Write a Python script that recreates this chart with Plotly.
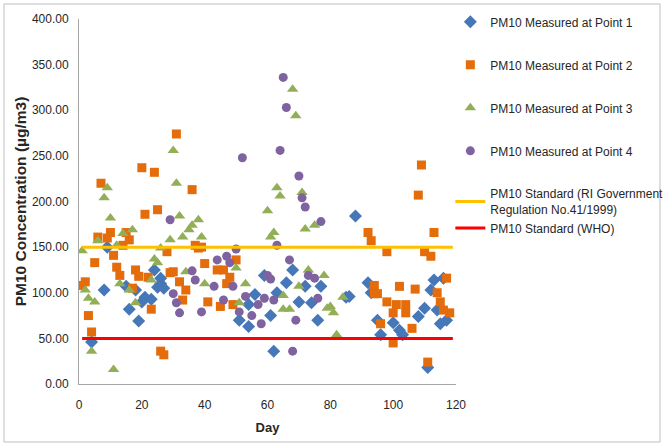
import plotly.graph_objects as go

# Point 1 (blue diamonds)
p1_day = [4, 8, 9, 15, 16, 18, 19, 20, 21, 23, 24, 25, 26, 26, 27,
          51, 54, 54, 56, 59, 61, 62, 63, 66, 68, 70, 72, 74, 76, 77,
          85, 86, 88, 92, 93, 95, 96, 100, 102, 103, 108, 110, 111, 112, 113, 114, 115, 116, 117]
p1_val = [46, 103, 150, 107, 82, 103, 69, 90, 95, 93, 125, 106, 116, 110, 105,
          70, 63, 87, 98, 119, 75, 36, 100, 111, 125, 90, 107, 89, 70, 107,
          95, 96, 184, 111, 100, 70, 54, 67, 59, 54, 74, 83, 18, 103, 114, 81, 66, 116, 70]

# Point 2 (orange squares)
p2_day = [1, 2, 3, 4, 5, 6, 7, 9, 10, 11, 12, 13, 14, 15, 16, 17, 18, 19, 20, 21,
          22, 23, 24, 25, 26, 27, 28, 29, 30, 31, 32, 33, 34, 36, 37, 38, 39, 40,
          41, 44, 45, 46, 47, 48, 49, 50,
          92, 93, 94, 94, 95, 96, 98, 98, 100, 100, 102, 101, 104, 104, 106, 107,
          108, 109, 110, 111, 112, 113, 114, 115, 116, 117, 118]
p2_val = [108, 112, 75, 57, 133, 161, 220, 160, 166, 141, 128, 119, 152, 166, 158, 105, 125, 118, 237, 186,
          117, 82, 232, 191, 36, 32, 145, 122, 123, 274, 112, 92, 103, 213, 152, 149, 150, 132,
          90, 125, 85, 125, 110, 117, 87, 136,
          166, 157, 108, 99, 99, 66, 145, 90, 45, 78, 107, 87, 87, 78, 61, 104,
          207, 240, 145, 24, 140, 166, 100, 90, 81, 116, 78]

# Point 3 (green triangles)
p3_day = [1, 2, 3, 4, 5, 6, 8, 9, 10, 11, 12, 13, 14, 16, 17, 18, 23, 24, 25, 26,
          29, 30, 31, 32, 33, 34, 35, 36, 38, 39, 40, 50, 51, 53,
          60, 61, 62, 63, 64, 65, 65, 67, 68, 69, 70, 71, 72, 73, 75, 78, 79, 80, 81, 82, 84]
p3_val = [146, 103, 94, 36, 90, 157, 204, 215, 182, 16, 152, 110, 165, 103, 169, 89, 114, 137, 133, 149,
          158, 256, 220, 184, 161, 123, 169, 174, 180, 161, 110, 127, 89, 110,
          190, 161, 166, 215, 206, 97, 82, 82, 323, 294, 107, 210, 170, 125, 174, 119, 83, 85, 78, 54, 95]

# Point 4 (purple circles)
p4_day = [29, 30, 31, 32, 36, 37, 39, 43, 44, 46, 47, 48, 49, 50, 51, 52, 53, 55, 57, 58,
          59, 60, 61, 62, 63, 64, 65, 66, 67, 68, 69, 70, 71, 72, 73, 75, 76, 77]
p4_val = [180, 99, 89, 78, 124, 114, 79, 107, 136, 92, 140, 133, 107, 148, 79, 248, 96, 75, 87, 66,
          94, 119, 115, 92, 152, 256, 336, 303, 136, 36, 70, 228, 204, 194, 119, 116, 94, 178]

std_day = [1, 119]
std_ri = [150, 150]
std_who = [50, 50]

FONT = "Liberation Sans, Arial, sans-serif"
TXT = "#262626"

fig = go.Figure()
fig.add_trace(go.Scatter(x=p1_day, y=p1_val, mode="markers", name="PM10 Measured at Point 1",
                         legendgroup="a",
                         marker=dict(symbol="diamond", size=10, color="#4677B8")))
fig.add_trace(go.Scatter(x=p2_day, y=p2_val, mode="markers", name="PM10 Measured at Point 2",
                         legendgroup="b",
                         marker=dict(symbol="square", size=9, color="#E46C0A")))
fig.add_trace(go.Scatter(x=p3_day, y=p3_val, mode="markers", name="PM10 Measured at Point 3",
                         legendgroup="c",
                         marker=dict(symbol="triangle-up", size=10, color="#92AF58")))
fig.add_trace(go.Scatter(x=p4_day, y=p4_val, mode="markers", name="PM10 Measured at Point 4",
                         legendgroup="d",
                         marker=dict(symbol="circle", size=9, color="#7F63A0")))
fig.add_trace(go.Scatter(x=std_day, y=std_ri, mode="lines",
                         name="PM10 Standard (RI Government<br>Regulation No.41/1999)",
                         legendgroup="e",
                         line=dict(color="#FFC000", width=3)))
fig.add_trace(go.Scatter(x=std_day, y=std_who, mode="lines", name="PM10 Standard (WHO)",
                         legendgroup="e",
                         line=dict(color="#FF0000", width=3)))

fig.update_layout(
    width=663, height=446,
    margin=dict(l=79, r=207, t=19, b=62, autoexpand=False),
    paper_bgcolor="white", plot_bgcolor="white",
    font=dict(family=FONT, size=12, color=TXT),
    showlegend=True,
    legend=dict(x=0.985, xanchor="left", y=1.032, yanchor="top",
                tracegroupgap=24, traceorder="grouped", maxheight=440,
                groupclick="toggleitem",
                font=dict(family=FONT, size=12, color=TXT),
                bgcolor="rgba(0,0,0,0)"),
    xaxis=dict(range=[0, 120], dtick=20, tick0=0, showgrid=False, zeroline=False,
               showline=True, linecolor="#A6A6A6", linewidth=1, ticks="",
               ticklabelstandoff=10,
               tickfont=dict(family=FONT, size=12, color=TXT),
               title=dict(text="<b>Day</b>", font=dict(family=FONT, size=13, color=TXT), standoff=11)),
    yaxis=dict(range=[0, 400], dtick=50, tick0=0, tickformat=".2f", showgrid=False, zeroline=False,
               showline=True, linecolor="#A6A6A6", linewidth=1, ticks="",
               ticklabelstandoff=7,
               tickfont=dict(family=FONT, size=12, color=TXT),
               title=dict(text="<b>PM10 Concentration (µg/m3)</b>",
                          font=dict(family=FONT, size=15.5, color=TXT), standoff=1)),
    shapes=[dict(type="rect", xref="paper", yref="paper",
                 x0=(4 - 79) / 377, x1=(660 - 79) / 377,
                 y0=(384 - 442) / 365, y1=(384 - 4) / 365,
                 line=dict(color="#BFBFBF", width=1), fillcolor="rgba(0,0,0,0)", layer="below")],
)

fig.write_html("out.html")
